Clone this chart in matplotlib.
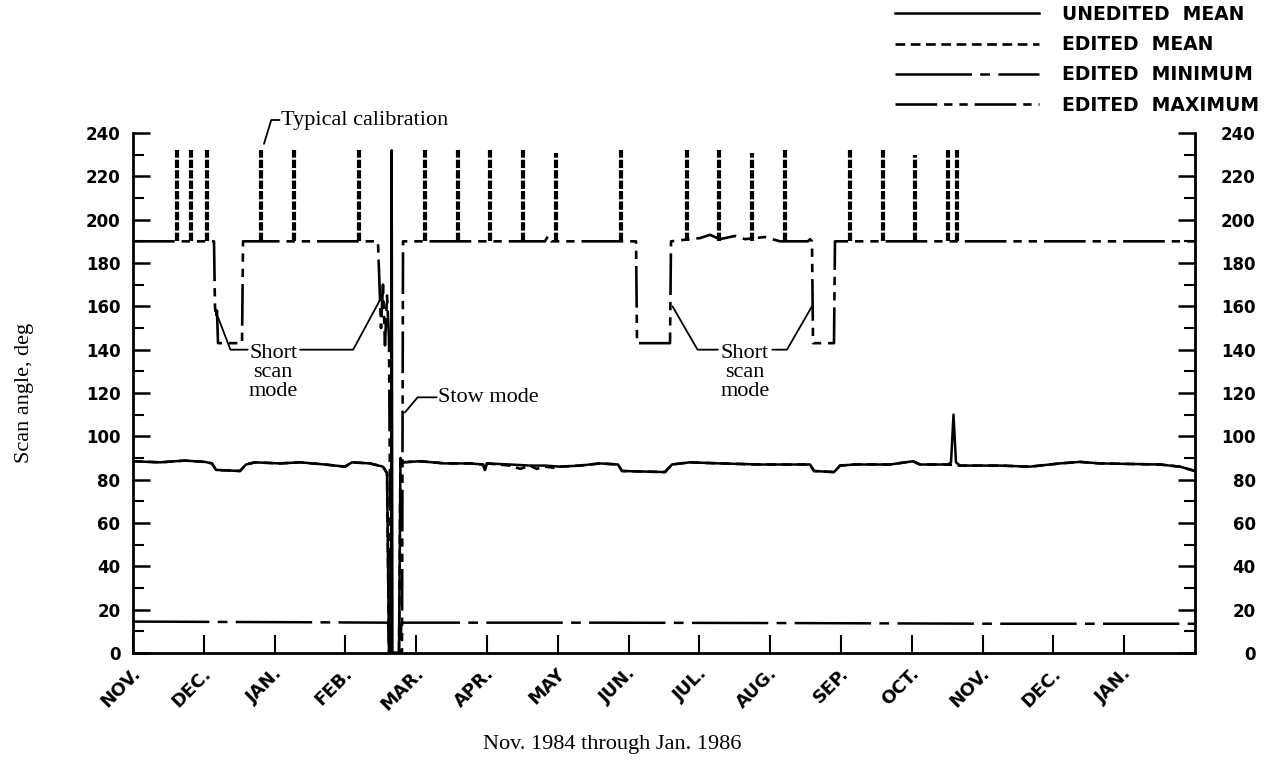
import matplotlib
matplotlib.use('Agg')
import matplotlib.pyplot as plt
import matplotlib.transforms as mtransforms

plt.rcParams['lines.scale_dashes'] = False

# x axis in months since 1 Nov 1984
month_labels = ['NOV.', 'DEC.', 'JAN.', 'FEB.', 'MAR.', 'APR.', 'MAY', 'JUN.',
                'JUL.', 'AUG.', 'SEP.', 'OCT.', 'NOV.', 'DEC.', 'JAN.']

# unedited mean
unedited_x = [0, 0.381, 0.734, 1.017, 1.116, 1.172, 1.511, 1.596, 1.723, 2.076,
              2.359, 2.712, 2.994, 3.093, 3.347, 3.531, 3.588, 3.616, 3.644, 3.654,
              3.664, 3.757, 3.778, 3.799, 4.054, 4.407, 4.760, 4.944, 4.972, 5.0,
              5.325, 5.607, 5.819, 6.031, 6.314, 6.596, 6.850, 6.907, 7.514, 7.613,
              7.867, 8.291, 8.856, 9.280, 9.562, 9.619, 9.901, 9.986, 10.198, 10.692,
              11.017, 11.116, 11.511, 11.554, 11.589, 11.624, 11.681, 12.246, 12.669, 13.093,
              13.376, 13.658, 14.506, 14.788, 15.0]
unedited_y = [88.5, 88, 88.8, 88.2, 87.5, 84.5, 84, 87, 88, 87.5,
              88, 87, 86, 88, 87.5, 86, 83, 0, 0, 232,
              0, 0, 90, 88, 88.5, 87.5, 87.5, 87, 84.5, 87.5,
              87, 86.5, 86.5, 86, 86.5, 87.5, 87, 84, 83.5, 87,
              88, 87.5, 87, 87, 87, 84, 83.5, 86.5, 87, 87,
              88.5, 87, 87, 88, 110, 88, 86.5, 86.5, 86, 87.5,
              88.2, 87.5, 87, 86, 84]

# edited mean
edited_x = [0, 0.381, 0.734, 1.017, 1.116, 1.172, 1.511, 1.596, 1.723, 2.076,
            2.359, 2.712, 2.994, 3.093, 3.347, 3.531, 3.588, 3.616, 3.757, 3.778,
            3.799, 4.054, 4.407, 4.760, 4.944, 4.972, 5.0, 5.325, 5.470, 5.607,
            5.700, 5.819, 5.950, 6.031, 6.314, 6.596, 6.850, 6.907, 7.514, 7.613,
            7.867, 8.291, 8.856, 9.280, 9.562, 9.619, 9.901, 9.986, 10.198, 10.692,
            11.017, 11.116, 11.511, 11.681, 12.246, 12.669, 13.093, 13.376, 13.658, 14.506,
            14.788, 15.0]
edited_y = [88.5, 88, 88.8, 88.2, 87.5, 84.5, 84, 87, 88, 87.5,
            88, 87, 86, 88, 87.5, 86, 83, 0, 0, 90,
            88, 88.5, 87.5, 87.5, 87, 84.5, 87.5, 86.5, 85, 86.5,
            85, 86, 85.5, 86, 86.5, 87.5, 87, 84, 83.5, 87,
            88, 87.5, 87, 87, 87, 84, 83.5, 86.5, 87, 87,
            88.5, 87, 87, 86.5, 86.5, 86, 87.5, 88.2, 87.5, 87,
            86, 84]

# edited minimum
min_x = [0, 2.359, 3.602, 3.623, 3.771, 3.792, 6.596, 9.421, 12.246, 15.0]
min_y = [14.5, 14.2, 14, 0, 0, 14, 14, 13.8, 13.5, 13.5]

# edited maximum (baseline)
max_x = [0, 1.130, 1.144, 1.158, 1.172, 1.186, 1.201, 1.540, 1.554, 3.460,
         3.503, 3.531, 3.559, 3.588, 3.616, 3.644, 3.799, 3.814, 5.819, 5.862,
         5.904, 7.105, 7.119, 7.585, 7.599, 8.008, 8.150, 8.291, 8.503, 8.644,
         8.927, 9.138, 9.534, 9.562, 9.590, 9.605, 9.901, 9.915, 15.0]
max_y = [190, 190, 190, 160, 155, 158, 143, 143, 190, 190,
         150, 170, 142, 165, 145, 0, 0, 190, 190, 192.5,
         190, 190, 143, 143, 190, 191.5, 193, 191, 192.5, 191,
         192, 190, 190, 191, 190, 143, 143, 190, 190]

# calibration spikes on edited maximum
spike_x = [0.617, 0.815, 1.049, 1.808, 2.274, 3.196, 4.124, 4.586, 5.042, 5.504,
           5.975, 6.893, 7.821, 8.281, 8.739, 9.205, 10.127, 10.589, 11.049, 11.516,
           11.643]
spike_top = [232, 232, 232, 232, 232, 232, 232, 232, 232, 232,
             231, 232, 232, 232, 231, 232, 232, 232, 230, 232,
             232]
spike_base = 190

W, H = 1277, 761
fig = plt.figure(figsize=(W / 100, H / 100), dpi=100)
ax = fig.add_axes([133 / W, 1 - 653 / H, 1062 / W, 520 / H])

dash_mean = (0, (7, 4))
dash_min = (0, (55, 6, 7, 6))
dash_max = (0, (30, 5, 6, 5, 6, 5))

l_min, = ax.plot(min_x, min_y, color='black', lw=1.8, linestyle=dash_min, label='EDITED  MINIMUM')
l_max, = ax.plot(max_x, max_y, color='black', lw=1.9, linestyle=dash_max, label='EDITED  MAXIMUM')
ax.vlines(spike_x, spike_base, spike_top, colors='black', lw=3.0, linestyles=[(0, (6, 1.5))])
l_ed, = ax.plot(edited_x, edited_y, color='black', lw=1.9, linestyle=dash_mean, label='EDITED  MEAN')
l_un, = ax.plot(unedited_x, unedited_y, color='black', lw=1.8, label='UNEDITED  MEAN')

ax.set_xlim(0, 15)
ax.set_ylim(0, 240)

ax.spines['top'].set_visible(False)
for s in ['left', 'right', 'bottom']:
    ax.spines[s].set_linewidth(2)

# y ticks on both sides
ax.set_yticks(range(0, 241, 20))
ax.set_yticks(range(10, 240, 20), minor=True)
ax.tick_params(axis='y', which='both', direction='in', left=True, right=True,
               labelleft=True, labelright=True)
ax.tick_params(axis='y', which='major', length=12, width=1.8, pad=9, labelsize=12)
ax.tick_params(axis='y', which='minor', length=8, width=1.5)
for lbl in ax.get_yticklabels():
    lbl.set_fontweight('bold')
# right labels end ~57 px from the spine
offset_r = mtransforms.ScaledTranslation(48 / 100, 0, fig.dpi_scale_trans)
for t in ax.yaxis.get_major_ticks():
    t.label2.set_horizontalalignment('right')
    t.label2.set_fontweight('bold')
    t.label2.set_transform(t.label2.get_transform() + offset_r)

# x ticks
ax.set_xticks(range(0, 15))
ax.set_xticklabels(month_labels, rotation=45, ha='right', va='top',
                   fontweight='bold', fontsize=13)
ax.tick_params(axis='x', direction='in', length=13, width=1.5, pad=8, top=False)
offset_x = mtransforms.ScaledTranslation(11 / 100, 0, fig.dpi_scale_trans)
for lbl in ax.get_xticklabels():
    lbl.set_transform(lbl.get_transform() + offset_x)

serif = 'Liberation Serif'
fig.text(25 / W, 1 - 393 / H, 'Scan angle, deg', rotation=90, ha='center', va='center',
         family=serif, fontsize=16)
fig.text(612 / W, 1 - 745 / H, 'Nov. 1984 through Jan. 1986', ha='center', va='center',
         family=serif, fontsize=16)

# annotations
lead = dict(arrowstyle='-', lw=1.3, color='black', shrinkA=0, shrinkB=0)
ax.text(2.09, 246, 'Typical calibration', ha='left', va='center', family=serif,
        fontsize=16, clip_on=False)
ax.annotate('', xy=(1.85, 235), xytext=(2.07, 246), annotation_clip=False,
            arrowprops=dict(lead, connectionstyle='angle,angleA=0,angleB=73,rad=0'))

ax.text(1.98, 129.5, 'Short\nscan\nmode', ha='center', va='center', family=serif,
        fontsize=16, linespacing=1.0)
ax.annotate('', xy=(1.20, 155), xytext=(1.62, 140),
            arrowprops=dict(lead, connectionstyle='angle,angleA=0,angleB=111,rad=0'))
ax.annotate('', xy=(3.49, 163), xytext=(2.36, 140),
            arrowprops=dict(lead, connectionstyle='angle,angleA=0,angleB=61.6,rad=0'))

ax.text(8.64, 129.5, 'Short\nscan\nmode', ha='center', va='center', family=serif,
        fontsize=16, linespacing=1.0)
ax.annotate('', xy=(7.62, 160), xytext=(8.26, 140),
            arrowprops=dict(lead, connectionstyle='angle,angleA=0,angleB=120,rad=0'))
ax.annotate('', xy=(9.59, 160), xytext=(9.03, 140),
            arrowprops=dict(lead, connectionstyle='angle,angleA=0,angleB=60,rad=0'))

ax.text(4.31, 118, 'Stow mode', ha='left', va='center', family=serif, fontsize=16)
ax.annotate('', xy=(3.84, 111), xytext=(4.29, 118),
            arrowprops=dict(lead, connectionstyle='angle,angleA=0,angleB=50,rad=0'))

# legend top right
fig.legend([l_un, l_ed, l_min, l_max],
           ['UNEDITED  MEAN', 'EDITED  MEAN', 'EDITED  MINIMUM', 'EDITED  MAXIMUM'],
           loc='upper left', bbox_to_anchor=(895 / W, 1 - 5 / H), frameon=False,
           prop=dict(weight='bold', size=13.5), handlelength=7.7, handletextpad=1.2,
           labelspacing=0.6, borderpad=0, borderaxespad=0)

fig.savefig('out.png', dpi=100)
